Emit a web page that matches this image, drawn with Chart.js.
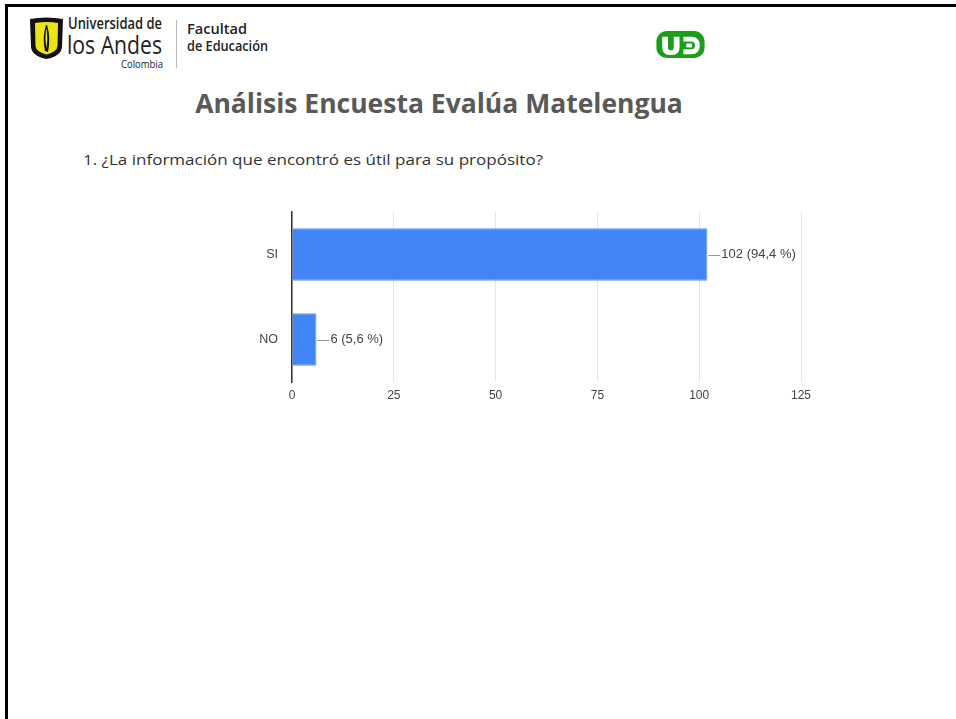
<!DOCTYPE html>
<html><head><meta charset="utf-8">
<script src="https://cdn.jsdelivr.net/npm/chart.js@4"></script>
<style>
html,body{margin:0;padding:0;background:#fff;width:956px;height:719px;overflow:hidden;}
#frame{position:absolute;left:5px;top:4px;width:960px;height:730px;border-left:3px solid #000;border-top:3px solid #000;box-sizing:border-box;}
.t{position:absolute;white-space:nowrap;}
.fit{transform-origin:0 0;}
#title{left:0;width:878px;text-align:center;top:85px;font-family:"Open Sans",sans-serif;font-weight:700;font-size:26.5px;color:#595959;}
#q{left:83px;top:150px;font-family:"Open Sans",sans-serif;font-size:14px;color:#333;}
#cw{position:absolute;left:230px;top:200px;width:600px;height:210px;}
.logo{font-family:"Open Sans",sans-serif;color:#222;line-height:0.8;}
</style></head><body>
<div id="frame"></div>
<svg style="position:absolute;left:30px;top:17px" width="33" height="42" viewBox="0 0 33 42">
<path d="M0 2 Q16 -1 33 2 L32 30 Q31 39 16.5 42 Q2 39 1 30 Z" fill="#111"/>
<path d="M5 6 Q16.5 4 28 6 L27.5 29 Q27 35 16.5 37.5 Q6 35 5.5 29 Z" fill="#ece418"/>
<path d="M16 8 Q12 20 15 34 L18 35 Q21 21 17 8 Z" fill="#111"/>
<path d="M16.3 12 Q14.5 22 16.5 31 Q18 22 16.7 12 Z" fill="#ece418"/>
</svg>
<div class="t logo fit" data-w="94" style="left:68px;top:16.5px;font-size:16px;font-weight:600;">Universidad de</div>
<div class="t logo fit" data-w="95" style="left:67px;top:33.5px;font-size:25px;">los Andes</div>
<div class="t logo fit" data-w="42" style="left:121px;top:59.5px;font-size:10.5px;">Colombia</div>
<div style="position:absolute;left:176px;top:20px;width:1px;height:48px;background:#bbb;"></div>
<div class="t logo fit" data-w="60" style="left:187px;top:23px;font-size:14px;font-weight:600;">Facultad</div>
<div class="t logo fit" data-w="81" style="left:187px;top:40px;font-size:14px;font-weight:600;">de Educación</div>
<svg style="position:absolute;left:655px;top:31px" width="51" height="27" viewBox="0 0 50 28">
<rect x="0" y="0" width="50" height="28" rx="11" fill="#1a9e1a"/>
<path d="M6 6 L12 6 L12 17 Q12 20 15 20 Q18 20 18 17 L18 6 L24 6 L24 17 Q24 25 15 25 Q6 25 6 17 Z" fill="#fff"/>
<path d="M28 6 L36 6 Q45 6 45 15 Q45 24 36 24 L28 24 L28 19 L36 19 Q40 19 40 15 Q40 11 36 11 L28 11 Z" fill="#fff"/>
<rect x="31" y="13" width="6" height="4" fill="#fff"/>
</svg>
<div id="title" class="t">Análisis Encuesta Evalúa Matelengua</div>
<div id="q" class="t fit" data-w="460">1. ¿La información que encontró es útil para su propósito?</div>
<div id="cw"><canvas id="c" width="600" height="210"></canvas></div>
<script>
document.querySelectorAll('.fit').forEach(el => {
  const w = el.getBoundingClientRect().width;
  const target = parseFloat(el.dataset.w);
  el.style.transform = 'scaleX(' + (target / w) + ')';
});

const categories = ["SI", "NO"];
const counts = [102, 6];
const percentLabels = ["94,4 %", "5,6 %"];
const xTicks = [0, 25, 50, 75, 100, 125];

const barLabels = {
  id: 'barLabels',
  afterDatasetsDraw(chart) {
    const ctx = chart.ctx;
    const meta = chart.getDatasetMeta(0);
    ctx.save();
    ctx.font = '13px Arial, "Liberation Sans", sans-serif';
    ctx.textBaseline = 'middle';
    meta.data.forEach((bar, i) => {
      const x = bar.x, y = bar.y;
      ctx.strokeStyle = '#999';
      ctx.lineWidth = 1;
      ctx.beginPath();
      ctx.moveTo(x + 1, Math.round(y) + 0.5);
      ctx.lineTo(x + 13, Math.round(y) + 0.5);
      ctx.stroke();
      ctx.fillStyle = '#444';
      ctx.fillText(counts[i] + ' (' + percentLabels[i] + ')', x + 14, y);
    });
    ctx.restore();
  }
};

new Chart(document.getElementById('c'), {
  type: 'bar',
  data: {
    labels: categories,
    datasets: [{
      data: counts,
      backgroundColor: '#4285f4',
      borderColor: '#5a95f5',
      borderWidth: 1,
      barPercentage: 0.62,
      categoryPercentage: 1.0
    }]
  },
  options: {
    indexAxis: 'y',
    responsive: false,
    animation: false,
    layout: { padding: { top: 12, right: 29, left: 0, bottom: 0 } },
    plugins: { legend: { display: false }, tooltip: { enabled: false } },
    scales: {
      x: {
        min: 0, max: 125,
        afterBuildTicks(axis) { axis.ticks = xTicks.map(v => ({ value: v })); },
        afterFit(axis) { axis.height = 28; },
        grid: { color: '#e6e6e6', drawTicks: false },
        border: { display: false },
        ticks: { padding: 6, color: '#444', font: { size: 12, family: 'Arial, "Liberation Sans", sans-serif' } }
      },
      y: {
        afterFit(axis) { axis.width = 62; },
        grid: { display: false, drawTicks: true, tickLength: 12 },
        border: { color: '#333', width: 1.5 },
        ticks: { padding: 2, color: '#444', font: { size: 12.5, family: 'Arial, "Liberation Sans", sans-serif' } }
      }
    }
  },
  plugins: [barLabels]
});
</script>
</body></html>
